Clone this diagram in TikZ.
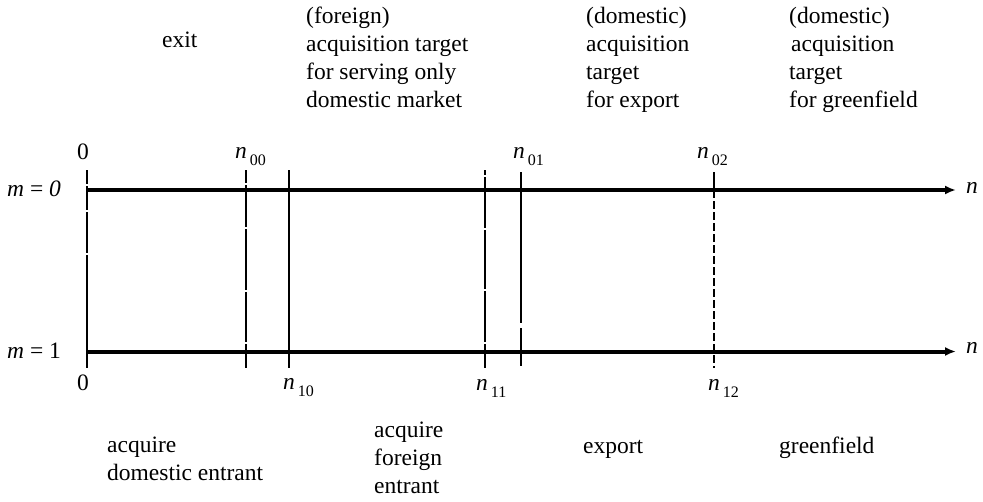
\documentclass[tikz,border=0pt]{standalone}
\usepackage{fontspec}
\setmainfont{Liberation Serif}
\usetikzlibrary{arrows.meta}
\tikzset{
  axisline/.style={line width=4pt, -{Latex[length=11pt,width=9pt]}},
  vline/.style={line width=2pt},
  lbl/.style={font=\fontsize{23.5}{28}\selectfont, inner sep=0pt, anchor=base west, align=left},
  num/.style={font=\fontsize{23.5}{28}\selectfont, inner sep=0pt, anchor=base west},
}
\newcommand{\nsub}[1]{\textit{n}\kern3pt\raisebox{-7pt}{\fontsize{16}{18}\selectfont #1}}
\begin{document}
\begin{tikzpicture}[x=1pt,y=-1pt]
\useasboundingbox (0,0) rectangle (983,501);
% axes
\coordinate (t0) at (86,190); \coordinate (tE) at (956,190);
\coordinate (b0) at (86,351.5); \coordinate (bE) at (956,351.5);
\draw[axisline] (t0) -- (tE);
\draw[axisline] (b0) -- (bE);
% vertical lines
\coordinate (v0t) at (87,170); \coordinate (v0b) at (87,368);
\coordinate (v1t) at (246,170); \coordinate (v1b) at (246,368);
\coordinate (v2t) at (289,170); \coordinate (v2b) at (289,368);
\coordinate (v3t) at (485,170); \coordinate (v3b) at (485,368);
\coordinate (v4t) at (521,172); \coordinate (v4b) at (521,366);
\coordinate (v5t) at (714,172); \coordinate (v5m) at (714,190); \coordinate (v5b) at (714,368);
\draw[vline, dash pattern=on 14pt off 2pt on 24pt off 2pt on 41pt off 2pt on 200pt off 0pt] (v0t) -- (v0b);
\draw[vline, dash pattern=on 13pt off 2pt on 42pt off 2pt on 61pt off 2pt on 50pt off 2pt on 40pt off 0pt] (v1t) -- (v1b);
\draw[vline] (v2t) -- (v2b);
\draw[vline, dash pattern=on 5pt off 2pt on 51pt off 2pt on 59pt off 2pt on 51pt off 2pt on 40pt off 0pt] (v3t) -- (v3b);
\draw[vline, dash pattern=on 151pt off 5pt on 60pt off 0pt] (v4t) -- (v4b);
\draw[vline] (v5t) -- (v5m);
\draw[vline, dash pattern=on 8pt off 3pt] (v5m) -- (v5b);
% axis labels
\node[num] (m0) at (7,196) {\textit{m} = \textit{0}};
\node[num] (m1) at (7,358) {\textit{m} = 1};
\node[num] (nt) at (966,193) {\textit{n}};
\node[num] (nb) at (966,353) {\textit{n}};
% threshold labels
\node[num] (z0t) at (77,159) {0};
\node[num] (n00) at (235,158) {\nsub{00}};
\node[num] (n01) at (513,158) {\nsub{01}};
\node[num] (n02) at (697,158) {\nsub{02}};
\node[num] (z0b) at (77,390) {0};
\node[num] (n10) at (283,389) {\nsub{10}};
\node[num] (n11) at (476,390) {\nsub{11}};
\node[num] (n12) at (708,390) {\nsub{12}};
% top texts (base anchor = last line)
\node[lbl] (exit) at (162,47) {exit};
\node[lbl] (fat) at (306,107) {(foreign)\\acquisition target\\for serving only\\domestic market};
\node[lbl] (dae) at (586,107) {(domestic)\\acquisition\\target\\for export};
\node[lbl] (dag) at (789,107) {(domestic)\\\kern2pt acquisition\\target\\for greenfield};
% bottom texts
\node[lbl] (ade) at (107,480) {acquire\\domestic entrant};
\node[lbl] (afe) at (374,493) {acquire\\foreign\\entrant};
\node[lbl] (exp) at (583,453) {export};
\node[lbl] (grf) at (779,453) {greenfield};
\end{tikzpicture}
\end{document}
